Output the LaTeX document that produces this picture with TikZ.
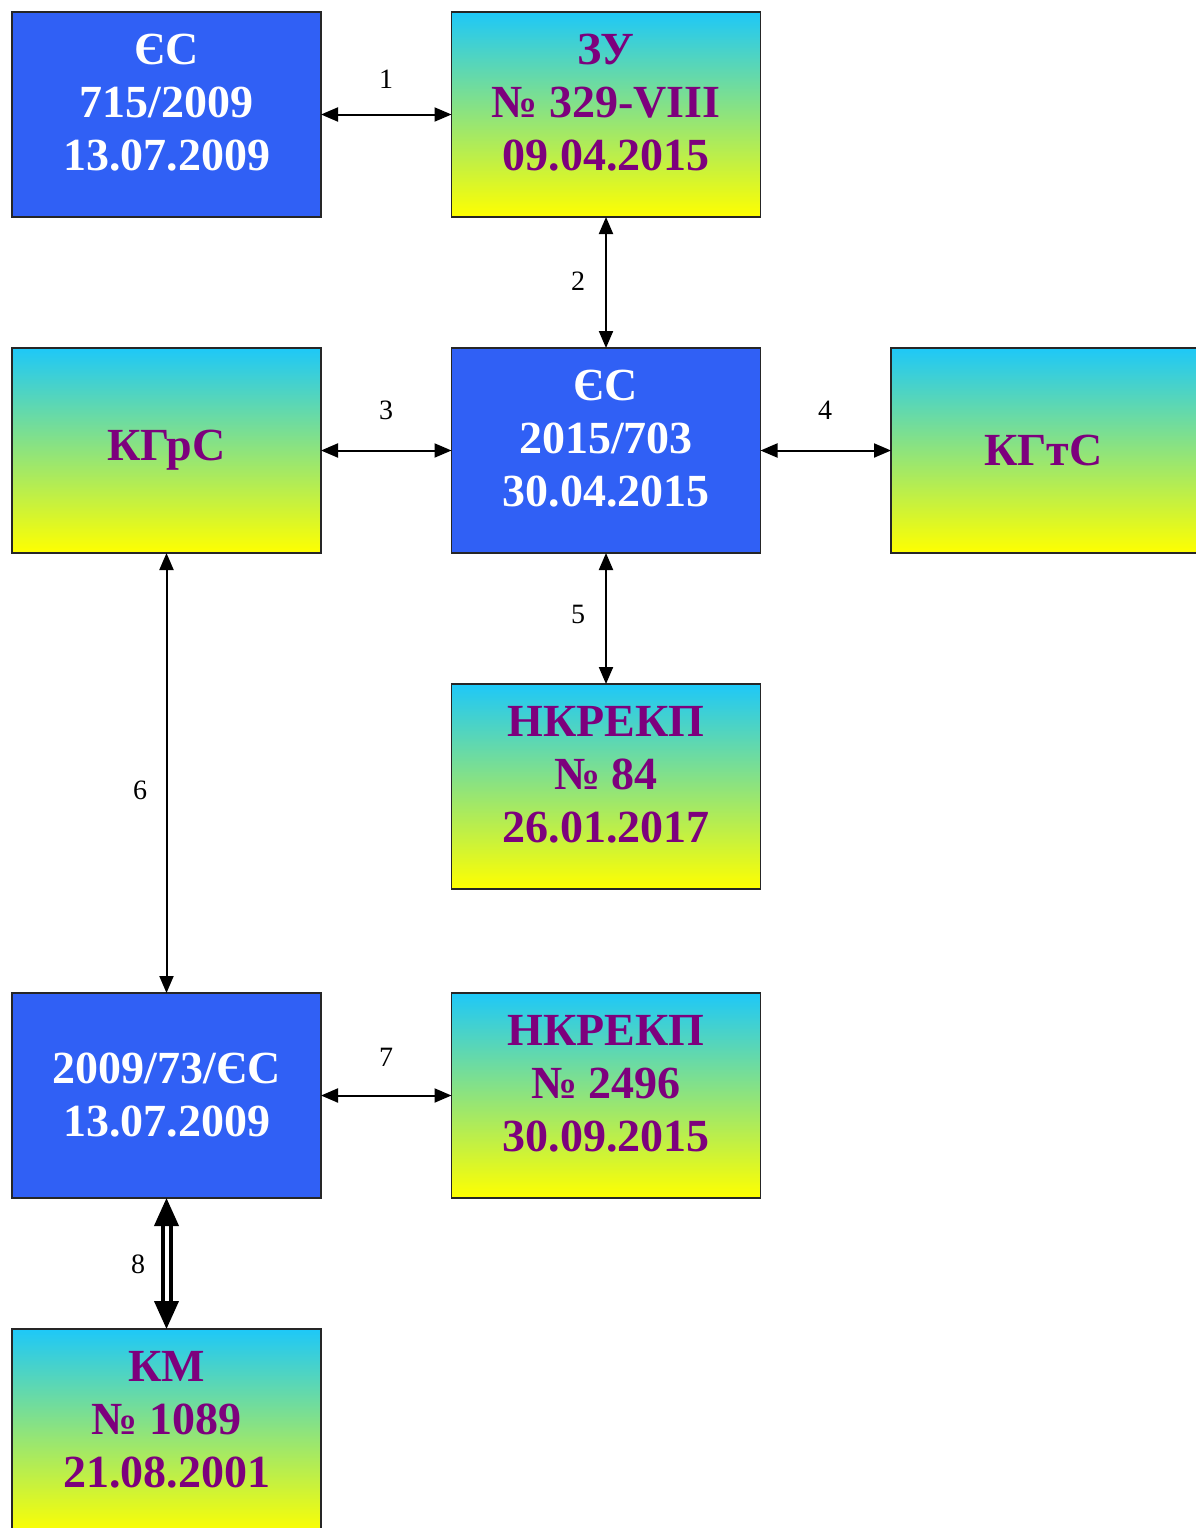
\documentclass[tikz,border=0pt]{standalone}
\usepackage{fontspec}
\setmainfont{Liberation Serif}
\usetikzlibrary{arrows.meta}
\definecolor{boxblue}{RGB}{48,96,245}
\definecolor{topcyan}{RGB}{30,200,248}
\definecolor{midpale}{RGB}{160,224,190}
\definecolor{botyellow}{RGB}{255,255,0}
\definecolor{txtpurple}{RGB}{125,0,125}
\begin{document}
\begin{tikzpicture}[x=1pt,y=-1pt,
 box/.style={rectangle, draw=black!85, line width=1.6pt, minimum width=309pt, minimum height=205pt, inner sep=0pt, outer sep=0pt},
 bluebox/.style={box, fill=boxblue},
 gradbox/.style={box, top color=topcyan, middle color=midpale, bottom color=botyellow},
 wtxt/.style={text=white, font=\bfseries\fontsize{46}{53}\selectfont, align=center},
 ptxt/.style={text=txtpurple, font=\bfseries\fontsize{46}{53}\selectfont, align=center},
 num/.style={font=\fontsize{28}{30}\selectfont, inner sep=0pt},
 link/.style={line width=2pt, {Triangle[length=17pt,width=14pt]}-{Triangle[length=17pt,width=14pt]}},
 dbl/.style={double=white, double distance=4pt, line width=4pt, {Triangle[length=28pt,width=24pt]}-{Triangle[length=28pt,width=24pt]}}
]
\useasboundingbox (0,0) rectangle (1196,1528);
\fill[white] (0,0) rectangle (1196,1528);
\clip (0,0) rectangle (1196,1528);

% boxes
\node[bluebox] (a) at (166.5,114.5) {};
\node[gradbox] (b) at (606,114.5) {};
\node[gradbox] (c) at (166.5,450.5) {};
\node[bluebox] (d) at (606,450.5) {};
\node[gradbox] (e) at (1045.5,450.5) {};
\node[gradbox] (f) at (606,786.5) {};
\node[bluebox] (g) at (166.5,1095.5) {};
\node[gradbox] (h) at (606,1095.5) {};
\node[gradbox] (i) at (166.5,1431.5) {};

% texts
\node[wtxt] (ta) at ([yshift=11.5pt]a.center) {ЄС\\715/2009\\13.07.2009};
\node[ptxt] (tb) at ([yshift=11.5pt]b.center) {ЗУ\\№ 329-VIII\\09.04.2015};
\node[ptxt] (tc) at (c.center) {КГрС};
\node[wtxt] (td) at ([yshift=11.5pt]d.center) {ЄС\\2015/703\\30.04.2015};
\node[ptxt] (te) at ([xshift=-2pt]e.center) {КГтС};
\node[ptxt] (tf) at ([yshift=11.5pt]f.center) {НКРЕКП\\№ 84\\26.01.2017};
\node[wtxt] (tg) at (g.center) {2009/73/ЄС\\13.07.2009};
\node[ptxt] (th) at ([yshift=11.5pt]h.center) {НКРЕКП\\№ 2496\\30.09.2015};
\node[ptxt] (ti) at ([yshift=11.5pt]i.center) {КМ\\№ 1089\\21.08.2001};

% connectors
\draw[link] (a.east) -- (b.west);
\draw[link] (b.south) -- (d.north);
\draw[link] (c.east) -- (d.west);
\draw[link] (d.east) -- (e.west);
\draw[link] (d.south) -- (f.north);
\draw[link] (c.south) -- (g.north);
\draw[link] (g.east) -- (h.west);
\draw[dbl] (g.south) -- (i.north);

% labels
\node[num] (n1) at (386,79) {1};
\node[num] (n2) at (578,281) {2};
\node[num] (n3) at (386,410) {3};
\node[num] (n4) at (825,410) {4};
\node[num] (n5) at (578,614) {5};
\node[num] (n6) at (140,790) {6};
\node[num] (n7) at (386,1057) {7};
\node[num] (n8) at (138,1264) {8};
\end{tikzpicture}
\end{document}
